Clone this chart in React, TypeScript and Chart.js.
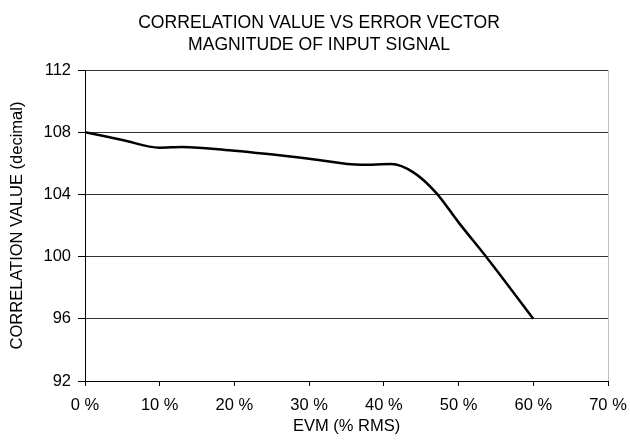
import React, { useEffect, useRef } from "react";
import { Chart, registerables } from "chart.js";

Chart.register(...registerables);

const evmPercent = [0, 5, 10, 13, 20, 30, 37, 41, 44, 47, 50, 54, 60];
const correlation = [108, 107.5, 107, 107.05, 106.8, 106.3, 105.9, 105.95, 105.4, 104.1, 102.2, 99.8, 96];
const titleLines = ["CORRELATION VALUE VS ERROR VECTOR", "MAGNITUDE OF INPUT SIGNAL"];
const xTitle = "EVM (% RMS)";
const yTitle = "CORRELATION VALUE (decimal)";
const xMin = 0, xMax = 70, xStep = 10;
const yMin = 92, yMax = 112, yStep = 4;

const FONT = "'Liberation Sans', Arial, sans-serif";

const chartDecor = {
  id: "chartDecor",
  afterDraw(chart: any) {
    const { ctx, chartArea } = chart;
    ctx.save();
    ctx.strokeStyle = "#c0c0c0";
    ctx.lineWidth = 1;
    ctx.beginPath();
    ctx.moveTo(chartArea.right + 0.5, chartArea.top);
    ctx.lineTo(chartArea.right + 0.5, chartArea.bottom);
    ctx.stroke();
    ctx.fillStyle = "#000";
    ctx.font = `17.6px ${FONT}`;
    ctx.textAlign = "center";
    ctx.textBaseline = "middle";
    titleLines.forEach((line, i) => {
      ctx.fillText(line, 319, 23 + i * 22.3);
    });
    ctx.restore();
  },
};

export default function App() {
  const ref = useRef<HTMLCanvasElement>(null);
  useEffect(() => {
    const chart = new Chart(ref.current!, {
      type: "line",
      data: {
        datasets: [
          {
            data: evmPercent.map((x, i) => ({ x, y: correlation[i] })),
            borderColor: "#000",
            borderWidth: 2.5,
            pointRadius: 0,
            cubicInterpolationMode: "monotone",
            fill: false,
          },
        ],
      },
      options: {
        animation: false,
        responsive: false,
        layout: { padding: { left: 0, right: 22, top: 70, bottom: 0 } },
        plugins: {
          legend: { display: false },
          tooltip: { enabled: false },
          title: { display: false },
        },
        scales: {
          x: {
            type: "linear",
            min: xMin,
            max: xMax,
            afterFit(scale: any) {
              scale.height = 63;
              scale.paddingLeft = 0;
              scale.paddingRight = 0;
            },
            ticks: {
              stepSize: xStep,
              color: "#000",
              padding: 10,
              font: { family: FONT, size: 16.5 },
              callback: (v: any) => `${v} %`,
              maxRotation: 0,
            },
            grid: {
              drawOnChartArea: false,
              drawTicks: true,
              tickLength: 5,
              tickColor: "#000",
            },
            border: { color: "#000", width: 1 },
            title: {
              display: true,
              text: xTitle,
              color: "#000",
              font: { family: FONT, size: 16.5 },
              padding: { top: 0, bottom: 8 },
            },
          },
          y: {
            min: yMin,
            max: yMax,
            afterFit(scale: any) {
              scale.width = 85;
              scale.paddingTop = 0;
              scale.paddingBottom = 0;
            },
            ticks: {
              stepSize: yStep,
              color: "#000",
              padding: 7,
              font: { family: FONT, size: 16.5 },
            },
            grid: {
              color: "#333",
              lineWidth: 1,
              drawTicks: true,
              tickLength: 7,
              tickColor: "#000",
            },
            border: { color: "#000", width: 1 },
            title: {
              display: true,
              text: yTitle,
              color: "#000",
              font: { family: FONT, size: 16.5 },
              padding: { top: 8, bottom: 0 },
            },
          },
        },
      },
      plugins: [chartDecor],
    });
    return () => chart.destroy();
  }, []);
  return (
    <div style={{ position: "fixed", left: 0, top: 0, width: 630, height: 444, background: "#fff" }}>
      <canvas ref={ref} width={630} height={444} style={{ width: 630, height: 444 }} />
    </div>
  );
}
